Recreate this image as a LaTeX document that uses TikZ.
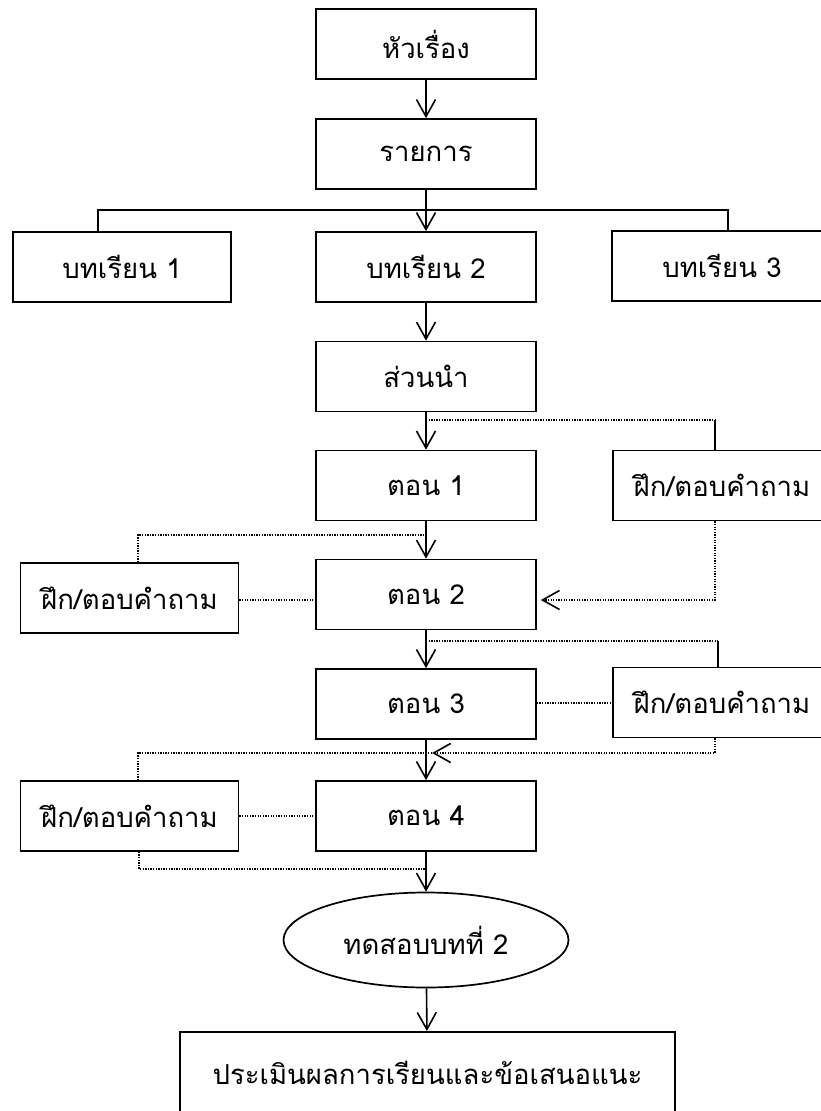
\documentclass[tikz,border=0pt]{standalone}
\usepackage{fontspec}
\newfontfamily\thaifont[Script=Thai]{Loma}
\usetikzlibrary{arrows.meta,shapes.geometric,calc}
\begin{document}
\begin{tikzpicture}[x=1pt,y=-1pt,
  font=\thaifont\fontsize{27.5}{32}\selectfont,
  box/.style={draw,line width=1.7pt,minimum width=220pt,minimum height=70pt,inner sep=0pt},
  wide/.style={box,minimum width=218pt},
  solid line/.style={line width=1.6pt},
  arr/.style={line width=1.6pt,-{Straight Barb[length=17pt,width=19pt]}},
  dotline/.style={line width=1.3pt,dash pattern=on 1.3pt off 1.3pt},
  dotarr/.style={dotline,-{Straight Barb[length=17pt,width=19pt,line width=1.6pt]}}]
\useasboundingbox (0,0) rectangle (821,1111);

% main column
\node[box] (top)   at (426,44)    {หัวเรื่อง};
\node[box] (list)  at (426,154)   {รายการ};
\node[box,minimum width=218pt] (l1) at (122,267) {บทเรียน 1};
\node[box] (l2)    at (426,267)   {บทเรียน 2};
\node[box] (l3)    at (722,266)   {บทเรียน 3};
\node[box] (intro) at (426,376.5) {ส่วนนำ};
\node[box] (p1)    at (426,485.5) {ตอน 1};
\node[box] (p2)    at (426,594.5) {ตอน 2};
\node[box] (p3)    at (426,704)   {ตอน 3};
\node[box] (p4)    at (426,816)   {ตอน 4};

% exercise boxes beside the parts
\node[wide] (q1) at (722,485.5) {ฝึก/ตอบคำถาม};
\node[wide] (q2) at (129.5,598) {ฝึก/ตอบคำถาม};
\node[wide] (q3) at (722,702.5) {ฝึก/ตอบคำถาม};
\node[wide] (q4) at (129.5,816) {ฝึก/ตอบคำถาม};

% test and evaluation
\node[draw,ellipse,line width=1.7pt,minimum width=285pt,minimum height=95pt,inner sep=0pt] (test) at (426,940) {ทดสอบบทที่ 2};
\node[draw,line width=1.7pt,minimum width=495pt,minimum height=110pt,anchor=north] (eval) at (427.5,1031) {};
\node (evaltext) at (427.5,1073) {ประเมินผลการเรียนและข้อเสนอแนะ};

% junction points
\coordinate (br)  at (426,210);
\coordinate (j1)  at (426,420);
\coordinate (j2)  at (426,535);
\coordinate (j3)  at (426,641);
\coordinate (j4)  at (432,753);
\coordinate (j5)  at (426,869);
\coordinate (q1n) at ($(q1.north)+(-7,0)$);
\coordinate (q1s) at ($(q1.south)+(-7,0)$);
\coordinate (q2n) at ($(q2.north)+(8.5,0)$);
\coordinate (q3n) at ($(q3.north)+(-4,0)$);
\coordinate (q3s) at ($(q3.south)+(-7,0)$);
\coordinate (q4n) at ($(q4.north)+(8.5,0)$);
\coordinate (q4s) at ($(q4.south)+(9.5,0)$);
\coordinate (l1n) at ($(l1.north)+(-24,0)$);
\coordinate (l3n) at ($(l3.north)+(6,0)$);
\coordinate (p2in) at ($(p2.east)+(4,5.5)$);

% flow down the main column
\draw[arr] (top) -- (list);
\draw[arr] (list) -- (l2);
\draw[solid line] (l1n) |- (br) -| (l3n);
\draw[arr] (l2) -- (intro);
\draw[arr] (intro) -- (p1);
\draw[arr] (p1) -- (p2);
\draw[arr] (p2) -- (p3);
\draw[arr] (p3) -- (p4);
\draw[arr] (p4) -- (test);
\draw[arr] (test) -- (eval);

% exercise links
\draw[dotline] (j1) -- (j1 -| q1n);
\draw[solid line] (q1n) -- (q1n |- j1);
\draw[dotarr] (q1s) |- (p2in);

\draw[dotline] (q2n) |- (j2);
\draw[dotline] (q2.east |- 0,600) -- (p2.west |- 0,600);

\draw[dotline] (j3) -- (j3 -| q3n);
\draw[solid line] (q3n) -- (q3n |- j3);
\draw[dotline] (p3.east |- 0,703) -- (q3.west |- 0,703);
\draw[dotarr] (q3s) |- (j4);

\draw[dotline] (q4n) |- (j4);
\draw[dotline] (q4) -- (p4);
\draw[dotline] (q4s) |- (j5);
\end{tikzpicture}
\end{document}
